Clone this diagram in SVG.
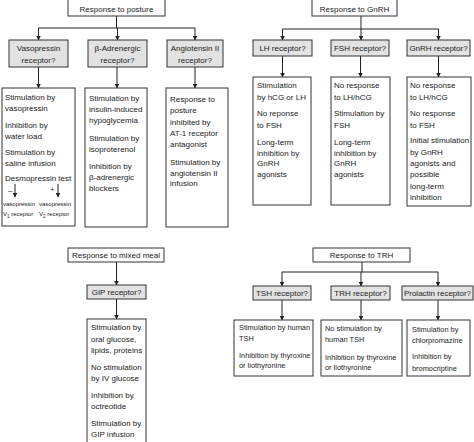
<svg xmlns="http://www.w3.org/2000/svg" width="474" height="442" viewBox="0 0 474 442">
<defs>
<marker id="ah" markerWidth="5" markerHeight="5" refX="4.5" refY="2.5" orient="auto" markerUnits="userSpaceOnUse">
<path d="M0,0 L5,2.5 L0,5 Z" fill="#222"/>
</marker>
</defs>
<style>
text{font-family:"Liberation Sans",Arial,sans-serif;font-size:8px;fill:#222}
.c{text-anchor:middle}
.sm{font-size:6px}
.s7{font-size:7.4px}
.box{fill:#fff;stroke:#333;stroke-width:1}
.g{fill:#e2e2e2;stroke:#333;stroke-width:1}
.ln{fill:none;stroke:#222;stroke-width:1}
</style>
<rect width="474" height="442" fill="#fff"/>

<g id="connectors">
<path class="ln" d="M116.5 16 V28 M38.5 28 H195"/>
<path class="ln" d="M38.5 28 V40" marker-end="url(#ah)"/>
<path class="ln" d="M117.5 28 V40" marker-end="url(#ah)"/>
<path class="ln" d="M195 28 V40" marker-end="url(#ah)"/>
<path class="ln" d="M38.5 67 V88" marker-end="url(#ah)"/>
<path class="ln" d="M117 67 V88" marker-end="url(#ah)"/>
<path class="ln" d="M195 67 V88" marker-end="url(#ah)"/>

<path class="ln" d="M361 16 V29 M282.5 29 H438.5"/>
<path class="ln" d="M282.5 29 V40" marker-end="url(#ah)"/>
<path class="ln" d="M361 29 V40" marker-end="url(#ah)"/>
<path class="ln" d="M438.5 29 V40" marker-end="url(#ah)"/>
<path class="ln" d="M282.5 56 V77" marker-end="url(#ah)"/>
<path class="ln" d="M360.5 56 V77" marker-end="url(#ah)"/>
<path class="ln" d="M438.5 56 V77" marker-end="url(#ah)"/>

<path class="ln" d="M116.5 262 V285" marker-end="url(#ah)"/>
<path class="ln" d="M116.5 299 V319" marker-end="url(#ah)"/>

<path class="ln" d="M362 262 V272 M282 272 H438"/>
<path class="ln" d="M282 272 V286" marker-end="url(#ah)"/>
<path class="ln" d="M361 272 V286" marker-end="url(#ah)"/>
<path class="ln" d="M438 272 V286" marker-end="url(#ah)"/>
<path class="ln" d="M282 300 V320" marker-end="url(#ah)"/>
<path class="ln" d="M361 300 V320" marker-end="url(#ah)"/>
<path class="ln" d="M438 300 V320" marker-end="url(#ah)"/>
</g>

<g id="posture">
<rect class="box" x="68" y="-2" width="97" height="18"/>
<text class="c" x="116.5" y="12">Response to posture</text>
</g>
<g id="vaso-q">
<rect class="g" x="9" y="40" width="59" height="27"/>
<text class="c" x="38.5" y="51">Vasopressin</text>
<text class="c" x="38.5" y="63">receptor?</text>
</g>
<g id="beta-q">
<rect class="g" x="88" y="40" width="59" height="27"/>
<text class="c" x="117.5" y="51">β-Adrenergic</text>
<text class="c" x="117.5" y="63">receptor?</text>
</g>
<g id="ang-q">
<rect class="g" x="167" y="40" width="56" height="27"/>
<text class="c" x="195" y="51">Angiotensin II</text>
<text class="c" x="195" y="63">receptor?</text>
</g>
<g id="vaso-r">
<rect class="box" x="2" y="88" width="73" height="138"/>
<text x="5" y="100">Stimulation by</text>
<text x="5" y="111">vasopressin</text>
<text x="5" y="128">Inhibition by</text>
<text x="5" y="139">water load</text>
<text x="5" y="155">Stimulation by</text>
<text x="5" y="166">saline infusion</text>
<text x="5" y="181">Desmopressin test</text>
<text x="8" y="193">–</text>
<path class="ln" d="M15 184 V197" marker-end="url(#ah)"/>
<text x="50" y="192">+</text>
<path class="ln" d="M58 184 V197" marker-end="url(#ah)"/>
<text class="sm" x="3" y="206">vasopressin</text>
<text class="sm" x="39" y="206">vasopressin</text>
<text class="sm" x="3" y="216">V<tspan font-size="4.5" dy="1.5">1</tspan><tspan dy="-1.5"> receptor</tspan></text>
<text class="sm" x="39" y="216">V<tspan font-size="4.5" dy="1.5">2</tspan><tspan dy="-1.5"> receptor</tspan></text>
</g>
<g id="beta-r">
<rect class="box" x="85" y="88" width="62" height="139"/>
<text x="89" y="101">Stimulation by</text>
<text x="89" y="112">insulin-induced</text>
<text x="89" y="123">hypoglycemia</text>
<text x="89" y="141">Stimulation by</text>
<text x="89" y="152">isoproterenol</text>
<text x="89" y="169">Inhibition by</text>
<text x="89" y="180">β-adrenergic</text>
<text x="89" y="191">blockers</text>
</g>
<g id="ang-r">
<rect class="box" x="166" y="88" width="62" height="139"/>
<text x="170" y="102">Response to</text>
<text x="170" y="113">posture</text>
<text x="170" y="125">inhibited by</text>
<text x="170" y="136">AT-1 receptor</text>
<text x="170" y="147">antagonist</text>
<text x="170" y="165">Stimulation by</text>
<text x="170" y="176">angiotensin II</text>
<text x="170" y="186">infusion</text>
</g>

<g id="gnrh">
<rect class="box" x="312" y="-2" width="85" height="18"/>
<text class="c" x="354.5" y="12">Response to GnRH</text>
</g>
<g id="lh-q">
<rect class="g" x="253" y="40" width="59" height="16"/>
<text class="c" x="282.5" y="51">LH receptor?</text>
</g>
<g id="fsh-q">
<rect class="g" x="331" y="40" width="58" height="16"/>
<text class="c" x="360" y="51">FSH receptor?</text>
</g>
<g id="gnrh-q">
<rect class="g" x="407" y="40" width="63" height="16"/>
<text class="c" x="438.5" y="51">GnRH receptor?</text>
</g>
<g id="lh-r">
<rect class="box" x="253" y="77" width="58" height="128"/>
<text x="257" y="88">Stimulation</text>
<text x="257" y="100">by hCG or LH</text>
<text x="257" y="116">No reponse</text>
<text x="257" y="128">to FSH</text>
<text x="257" y="145">Long-term</text>
<text x="257" y="156">inhibition by</text>
<text x="257" y="166">GnRH</text>
<text x="257" y="177">agonists</text>
</g>
<g id="fsh-r">
<rect class="box" x="331" y="77" width="59" height="128"/>
<text x="334" y="88">No response</text>
<text x="334" y="100">to LH/hCG</text>
<text x="334" y="116">Stimulation by</text>
<text x="334" y="128">FSH</text>
<text x="334" y="145">Long-term</text>
<text x="334" y="156">inhibition by</text>
<text x="334" y="166">GnRH</text>
<text x="334" y="177">agonists</text>
</g>
<g id="gnrh-r">
<rect class="box" x="407" y="77" width="64" height="129"/>
<text x="410" y="88">No response</text>
<text x="410" y="100">to LH/hCG</text>
<text x="410" y="116">No response</text>
<text x="410" y="128">to FSH</text>
<text x="410" y="143">Initial stimulation</text>
<text x="410" y="155">by GnRH</text>
<text x="410" y="166">agonists and</text>
<text x="410" y="177">possible</text>
<text x="410" y="189">long-term</text>
<text x="410" y="200">inhibition</text>
</g>

<g id="meal">
<rect class="box" x="68" y="248" width="96" height="14"/>
<text class="c" x="116" y="258">Response to mixed meal</text>
</g>
<g id="gip-q">
<rect class="g" x="87" y="285" width="59" height="14"/>
<text class="c" x="116.5" y="295">GIP receptor?</text>
</g>
<g id="gip-r">
<rect class="box" x="87" y="319" width="59" height="130"/>
<text x="91" y="330">Stimulation by</text>
<text x="91" y="342">oral glucose,</text>
<text x="91" y="353">lipids, proteins</text>
<text x="91" y="370">No stimulation</text>
<text x="91" y="381">by IV glucose</text>
<text x="91" y="398">Inhibition by</text>
<text x="91" y="409">octreotide</text>
<text x="91" y="426">Stimulation by</text>
<text x="91" y="437">GIP infusion</text>
</g>

<g id="trh">
<rect class="box" x="313" y="248" width="97" height="14"/>
<text class="c" x="361.5" y="258">Response to TRH</text>
</g>
<g id="tsh-q">
<rect class="g" x="253" y="286" width="58" height="14"/>
<text class="c" x="282" y="296">TSH receptor?</text>
</g>
<g id="trh-q">
<rect class="g" x="331" y="286" width="59" height="14"/>
<text class="c" x="360.5" y="296">TRH receptor?</text>
</g>
<g id="prl-q">
<rect class="g" x="402" y="286" width="71" height="14"/>
<text class="c" x="437.5" y="296">Prolactin receptor?</text>
</g>
<g id="tsh-r">
<rect class="box" x="234" y="320" width="79" height="56"/>
<text class="s7" x="239" y="330">Stimulation by human</text>
<text class="s7" x="239" y="341">TSH</text>
<text class="s7" x="239" y="358">Inhibition by thyroxine</text>
<text class="s7" x="239" y="368">or liothyronine</text>
</g>
<g id="trh-r">
<rect class="box" x="321" y="320" width="81" height="56"/>
<text class="s7" x="325" y="331">No stimulation by</text>
<text class="s7" x="325" y="342">human TSH</text>
<text class="s7" x="325" y="360">Inhibition by thyroxine</text>
<text class="s7" x="325" y="370">or liothyronine</text>
</g>
<g id="prl-r">
<rect class="box" x="407" y="320" width="63" height="56"/>
<text class="s7" x="412" y="332">Stimulation by</text>
<text class="s7" x="412" y="343">chlorpromazine</text>
<text class="s7" x="412" y="359">Inhibition by</text>
<text class="s7" x="412" y="371">bromocriptine</text>
</g>
</svg>
